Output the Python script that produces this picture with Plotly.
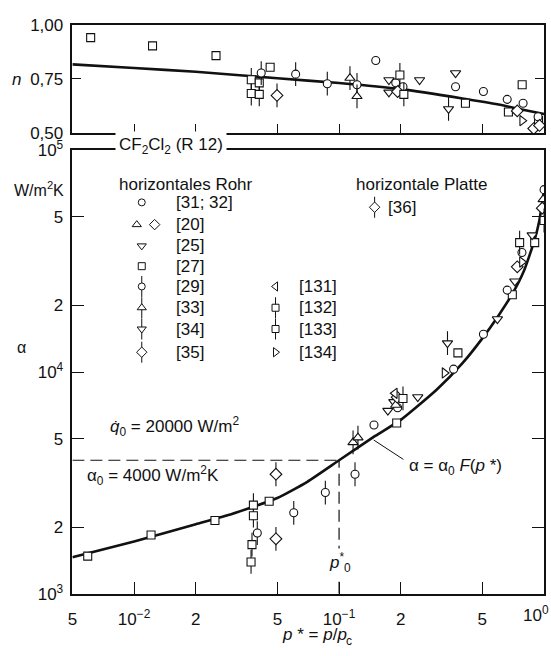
import plotly.graph_objects as go
import numpy as np

# ---------------------------------------------------------------- data
# correlation curves
curve_n_p = [0.005, 0.01, 0.02, 0.05, 0.1, 0.2, 0.4, 0.6, 0.8, 1.0]
curve_n = [0.817, 0.800, 0.783, 0.753, 0.731, 0.703, 0.660, 0.632, 0.607, 0.589]

curve_a_p = [0.005, 0.01, 0.02, 0.03, 0.05, 0.07, 0.1, 0.15, 0.2, 0.3,
             0.4, 0.5, 0.6, 0.7, 0.8, 0.9, 0.95, 1.0]
curve_a = [1460, 1722, 2060, 2290, 2704, 3200, 4000, 5150, 6085, 8340,
           10960, 14180, 17990, 22490, 28770, 39540, 48640, 66200]

alpha_0 = 4000      # W/m^2K
p_0 = 0.1           # reference reduced pressure

# measured exponent n (upper panel), per source
n_3132_p = [0.151, 0.189, 0.205, 0.370, 0.506, 0.661, 0.790, 0.935]
n_3132 = [0.835, 0.732, 0.714, 0.714, 0.692, 0.656, 0.638, 0.576]
n_20d_p = [0.193, 0.74, 0.89, 0.95]
n_20d = [0.692, 0.603, 0.522, 0.536]
n_25_p = [0.175, 0.175, 0.247, 0.370]
n_25 = [0.745, 0.688, 0.745, 0.777]
n_27_p = [0.00614, 0.0123, 0.0251, 0.0461, 0.4135, 0.67, 0.782, 0.94]
n_27 = [0.940, 0.902, 0.857, 0.804, 0.638, 0.598, 0.723, 0.558]
n_27b_p = [0.0373, 0.0408, 0.0373, 0.0408]
n_27b = [0.746, 0.732, 0.683, 0.679]
n_29_p = [0.0417, 0.0614, 0.0876, 0.1223]
n_29 = [0.777, 0.772, 0.728, 0.723]
n_33_p = [0.113, 0.1223]
n_33 = [0.754, 0.670]
n_34_p = [0.342]
n_34 = [0.612]
n_35_p = [0.0498]
n_35 = [0.674]
n_132_p = [0.198]
n_132 = [0.768]
n_133_p = [0.207]
n_133 = [0.679]
n_134_p = [0.782]
n_134 = [0.558]

# measured heat transfer coefficient alpha (lower panel), per source
a_3132_p = [0.148, 0.193, 0.362, 0.506, 0.661, 0.78, 1.0]
a_3132 = [5770, 6900, 10300, 14800, 23400, 34600, 66400]
a_20t_p = [0.189, 0.99]
a_20t = [7100, 60000]
a_20d_p = [0.192, 0.74, 0.98]
a_20d = [7700, 29800, 54800]
a_25_p = [0.173, 0.185, 0.242, 0.592, 0.72, 0.875]
a_25 = [6700, 7330, 7710, 17330, 25640, 41400]
a_27_p = [0.00594, 0.0121, 0.0248, 0.0456, 0.191, 0.38, 0.70, 0.90]
a_27 = [1478, 1842, 2139, 2614, 5885, 12200, 22300, 38300]
a_27b_p = [0.0382, 0.0382, 0.0376, 0.0372]
a_27b = [2512, 2250, 1667, 1392]
a_29_p = [0.0399, 0.0601, 0.0857, 0.1196]
a_29 = [1879, 2318, 2861, 3460]
a_33_p = [0.117, 0.1236]
a_33 = [4817, 5059]
a_34_p = [0.338]
a_34 = [13500]
a_35_p = [0.0492, 0.0492]
a_35 = [3460, 1770]
a_131_p = [0.187]
a_131 = [8020]
a_132_p = [0.205, 0.76]
a_132 = [7600, 38300]
a_133_p = [1.0]
a_133 = [48200]
a_134_p = [0.327, 0.78]
a_134 = [9900, 31330]

# legend texts
legend_col1 = ["[31; 32]", "[20]", "[25]", "[27]", "[29]", "[33]", "[34]", "[35]"]
legend_col2 = ["[131]", "[132]", "[133]", "[134]"]

x_tickvals = [0.005, 0.01, 0.02, 0.05, 0.1, 0.2, 0.5, 1.0]
x_ticktext = ["5", "10<sup>−2</sup>", "2", "5", "10<sup>−1</sup>", "2", "5", "10<sup>0</sup>"]
a_tickvals = [1e3, 2e3, 5e3, 1e4, 2e4, 5e4, 1e5]
a_ticktext = ["10<sup>3</sup>", "2", "5", "10<sup>4</sup>", "2", "5", "10<sup>5</sup>"]
n_tickvals = [0.50, 0.75, 1.00]
n_ticktext = ["0,50", "0,75", "1,00"]

# ---------------------------------------------------------------- styling
W, H = 551, 656
FONT = "Liberation Sans, Arial, sans-serif"
INK = "#111111"

# symbol, with vertical bar through the marker or not
STYLE = {
    "3132": ("circle", False),
    "20t": ("triangle-up", False),
    "20d": ("diamond", False),
    "25": ("triangle-down", False),
    "27": ("square", False),
    "27b": ("square", True),
    "29": ("circle", True),
    "33": ("triangle-up", True),
    "34": ("triangle-down", True),
    "35": ("diamond", True),
    "131": ("triangle-left", False),
    "132": ("square", True),
    "133": ("square", True),
    "134": ("triangle-right", False),
}


def msize(sym):
    return 9 if sym.startswith("triangle") or sym == "diamond" else 8


def px(x):
    return x / W


def py(y):
    return 1 - y / H


fig = go.Figure()


def add_points(xs, ys, key, xa, ya):
    sym, bar = STYLE[key]
    if bar:
        fig.add_trace(go.Scatter(
            x=xs, y=ys, mode="markers", xaxis=xa, yaxis=ya, showlegend=False,
            hoverinfo="skip",
            marker=dict(symbol="line-ns-open", size=17, color=INK,
                        line=dict(color=INK, width=1.1))))
    fig.add_trace(go.Scatter(
        x=xs, y=ys, mode="markers", xaxis=xa, yaxis=ya, showlegend=False,
        marker=dict(symbol=sym, size=msize(sym), color="white",
                    line=dict(color=INK, width=1.1))))


# upper panel: exponent n
fig.add_trace(go.Scatter(x=curve_n_p, y=curve_n, mode="lines", xaxis="x", yaxis="y",
                         line=dict(color=INK, width=2.6, shape="spline", smoothing=0.5),
                         showlegend=False))
for xs, ys, k in [(n_27_p, n_27, "27"), (n_27b_p, n_27b, "27b"), (n_29_p, n_29, "29"),
                  (n_35_p, n_35, "35"), (n_33_p, n_33, "33"), (n_3132_p, n_3132, "3132"),
                  (n_25_p, n_25, "25"), (n_34_p, n_34, "34"), (n_20d_p, n_20d, "20d"),
                  (n_132_p, n_132, "132"), (n_133_p, n_133, "133"), (n_134_p, n_134, "134")]:
    add_points(xs, ys, k, "x", "y")

# lower panel: alpha
fig.add_trace(go.Scatter(x=[curve_a_p[0], p_0], y=[alpha_0, alpha_0], mode="lines",
                         xaxis="x2", yaxis="y2", showlegend=False,
                         line=dict(color=INK, width=1.2, dash="12px,6px")))
fig.add_trace(go.Scatter(x=[p_0, p_0], y=[1e3, alpha_0], mode="lines",
                         xaxis="x2", yaxis="y2", showlegend=False,
                         line=dict(color=INK, width=1.2, dash="12px,6px")))
fig.add_trace(go.Scatter(x=curve_a_p, y=curve_a, mode="lines", xaxis="x2", yaxis="y2",
                         line=dict(color=INK, width=2.6, shape="spline", smoothing=0.5),
                         showlegend=False))
# leader from the curve to its label
fig.add_trace(go.Scatter(x=[0.1476, 0.206], y=[4935, 4035], mode="lines",
                         xaxis="x2", yaxis="y2", showlegend=False,
                         line=dict(color=INK, width=1.0)))
for xs, ys, k in [(a_27_p, a_27, "27"), (a_27b_p, a_27b, "27b"), (a_29_p, a_29, "29"),
                  (a_35_p, a_35, "35"), (a_33_p, a_33, "33"), (a_3132_p, a_3132, "3132"),
                  (a_25_p, a_25, "25"), (a_34_p, a_34, "34"), (a_20t_p, a_20t, "20t"),
                  (a_20d_p, a_20d, "20d"), (a_131_p, a_131, "131"), (a_132_p, a_132, "132"),
                  (a_133_p, a_133, "133"), (a_134_p, a_134, "134")]:
    add_points(xs, ys, k, "x2", "y2")

# legend glyphs on a pixel-space overlay
col1_keys = ["3132", None, "25", "27", "29", "33", "34", "35"]
col2_keys = ["131", "132", "133", "134"]
row_y = [197, 220, 242, 263, 284, 306, 328, 352]


def glyph(x, y, key):
    sym, bar = STYLE[key]
    if bar:
        fig.add_trace(go.Scatter(x=[x], y=[y], mode="markers", xaxis="x3", yaxis="y3",
                                 showlegend=False, hoverinfo="skip",
                                 marker=dict(symbol="line-ns-open", size=15, color=INK,
                                             line=dict(color=INK, width=1.0))))
    fig.add_trace(go.Scatter(x=[x], y=[y], mode="markers", xaxis="x3", yaxis="y3",
                             showlegend=False, hoverinfo="skip",
                             marker=dict(symbol=sym, size=msize(sym) - 1, color="white",
                                         line=dict(color=INK, width=1.0))))


for i, k in enumerate(col1_keys):
    if k is None:
        glyph(133, row_y[i], "20t")
        glyph(151, row_y[i], "20d")
    else:
        glyph(138, row_y[i], k)
for i, k in enumerate(col2_keys):
    glyph(273, row_y[4 + i], k)
glyph(373, 202, "35")

ann = []


def text(x, y, s, size=16, xanchor="left", yanchor="middle", **kw):
    ann.append(dict(x=px(x), y=py(y), xref="paper", yref="paper", text=s,
                    showarrow=False, xanchor=xanchor, yanchor=yanchor,
                    font=dict(family=FONT, size=size, color=INK), **kw))


text(113, 178, "horizontales Rohr", 17)
for i, s in enumerate(legend_col1):
    text(171, row_y[i], s, 17)
for i, s in enumerate(legend_col2):
    text(295, row_y[4 + i], s, 17)
text(352, 178, "horizontale Platte", 17)
text(384, 202, "[36]", 17)

text(168, 139, "CF<sub>2</sub>Cl<sub>2</sub> (R 12)", 17, xanchor="center",
     bgcolor="white", borderpad=3)
text(12, 70, "<i>n</i>", 17, xanchor="center")
text(62, 183, "W/m<sup>2</sup>K", 16, xanchor="right")
text(17, 347, "α", 16, xanchor="center")
text(104, 429, "<i>q̇</i><sub>0</sub> = 20000 W/m<sup>2</sup>", 17)
text(81, 480, "α<sub>0</sub> = 4000 W/m<sup>2</sup>K", 17)
text(406, 471, "α = α<sub>0</sub> <i>F</i>(<i>p</i> *)", 17)
text(338, 570, "<i>p</i><sup>*</sup><sub>0</sub>", 17, xanchor="center",
     bgcolor="white", borderpad=1)
# axis caption p* = p/p_c, with the subscript set as its own small text
text(278, 644, "<i>p</i> * = <i>p</i>/<i>p</i>", 17)
text(342, 651, "c", 12)
# last decade label sits flush with the right edge
text(551, 609, x_ticktext[-1], 17, xanchor="right", yanchor="top")

xrange = [np.log10(0.005), 0]
axis_common = dict(showline=True, linecolor=INK, linewidth=1.5, ticks="inside",
                   tickcolor=INK, tickwidth=1.3, showgrid=False, zeroline=False,
                   tickfont=dict(family=FONT, size=17, color=INK))

fig.update_layout(
    width=W, height=H,
    margin=dict(l=0, r=0, t=0, b=0),
    paper_bgcolor="white", plot_bgcolor="rgba(0,0,0,0)",
    showlegend=False,
    xaxis=dict(domain=[px(68), px(544)], anchor="y", type="log", range=xrange,
               tickvals=x_tickvals[1:-1], showticklabels=False, ticklen=10,
               mirror=True, **axis_common),
    yaxis=dict(domain=[py(125.5), py(13)], anchor="x", range=[0.5, 1.0],
               tickvals=n_tickvals, ticktext=n_ticktext, ticklen=9,
               mirror="ticks", ticklabelstandoff=4, **axis_common),
    xaxis2=dict(domain=[px(68), px(544)], anchor="y2", type="log", range=xrange,
                tickvals=x_tickvals, ticktext=x_ticktext[:-1] + [""], ticklen=12,
                mirror=True, ticklabelstandoff=9, **axis_common),
    yaxis2=dict(domain=[py(602), py(143)], anchor="x2", type="log", range=[3, 5],
                tickvals=a_tickvals, ticktext=a_ticktext, ticklen=12,
                mirror="ticks", ticklabelstandoff=4, **axis_common),
    xaxis3=dict(domain=[0, 1], anchor="y3", range=[0, W], visible=False, fixedrange=True),
    yaxis3=dict(domain=[0, 1], anchor="x3", range=[H, 0], visible=False, fixedrange=True),
    annotations=ann,
)

fig.write_html("out.html")
